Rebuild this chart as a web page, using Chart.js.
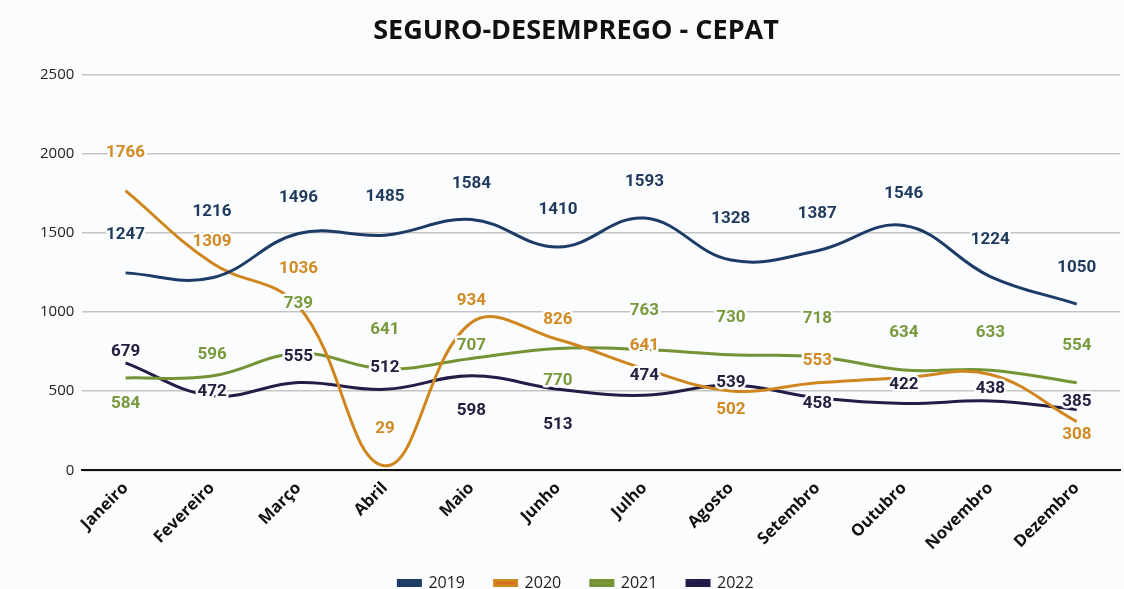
<!DOCTYPE html>
<html>
<head>
<meta charset="utf-8">
<script src="https://cdn.jsdelivr.net/npm/chart.js@4.4.1/dist/chart.umd.min.js"></script>
<style>
  html, body { margin: 0; padding: 0; background: #fbfcfd; }
  #wrap { width: 1124px; height: 589px; position: relative; }
</style>
</head>
<body>
<div id="wrap"><canvas id="c" width="1124" height="589"></canvas></div>
<script>
const categories = ["Janeiro", "Fevereiro", "Março", "Abril", "Maio", "Junho", "Julho", "Agosto", "Setembro", "Outubro", "Novembro", "Dezembro"];
const seriesNames = ["2019", "2020", "2021", "2022"];
const values2019 = [1247, 1216, 1496, 1485, 1584, 1410, 1593, 1328, 1387, 1546, 1224, 1050];
const values2020 = [1766, 1309, 1036, 29, 934, 826, 641, 502, 553, 585, 605, 308];
const values2021 = [584, 596, 739, 641, 707, 770, 763, 730, 718, 634, 633, 554];
const values2022 = [679, 472, 555, 512, 598, 513, 474, 539, 458, 422, 438, 385];
const yTicks = [0, 500, 1000, 1500, 2000, 2500];

// label placement (pixels relative to the point; null = no label)
const labelOffsets2019 = [-38, -66, -36, -38, -36, -37, -36, -41, -37, -32, -37, -36];
const labelOffsets2020 = [-38, -21, -38, -37, -22, -20, -23, 19, -22, null, null, 13];
const labelOffsets2021 = [26, -21, -50, -39, -13, 32, -39, -37, -38, -37, -37, -37];
const labelOffsets2022 = [-11, -4, -26, -22, 35, 36, -20, -2, 6, -19, -12, -8];

const lineColors = ["#1c3b66", "#d0861f", "#739335", "#221c47"];
const legendColors = ["#1f3f6b", "#d46c1c", "#7c9a3e", "#1c1a4a"];
const labelColors = ["#1f3a5c", "#d28a22", "#789a3c", "#25203f"];

const valueSets = [values2019, values2020, values2021, values2022];
const offsetSets = [labelOffsets2019, labelOffsets2020, labelOffsets2021, labelOffsets2022];

const datasets = seriesNames.map((name, i) => ({
  label: name,
  data: valueSets[i],
  borderColor: lineColors[i],
  backgroundColor: legendColors[i],
  borderWidth: 3,
  pointRadius: 0,
  pointHoverRadius: 0,
  tension: 0.4,
  fill: false,
  labelOffsets: offsetSets[i],
  labelColor: labelColors[i]
}));

const valueLabels = {
  id: 'valueLabels',
  afterDatasetsDraw(chart) {
    const ctx = chart.ctx;
    ctx.save();
    ctx.font = "bold 17px Roboto";
    ctx.textAlign = "center";
    ctx.textBaseline = "middle";
    ctx.lineJoin = "round";
    chart.data.datasets.forEach((ds, di) => {
      const meta = chart.getDatasetMeta(di);
      meta.data.forEach((pt, i) => {
        const off = ds.labelOffsets[i];
        if (off === null || off === undefined) return;
        const txt = String(ds.data[i]);
        ctx.lineWidth = 5;
        ctx.strokeStyle = "#fbfcfd";
        ctx.strokeText(txt, pt.x, pt.y + off);
        ctx.fillStyle = ds.labelColor;
        ctx.fillText(txt, pt.x, pt.y + off);
      });
    });
    ctx.restore();
  }
};

new Chart(document.getElementById('c'), {
  type: 'line',
  data: { labels: categories, datasets: datasets },
  options: {
    responsive: false,
    animation: false,
    layout: { padding: { left: 32, right: 4, top: 0, bottom: -12 } },
    plugins: {
      title: {
        display: true,
        text: "SEGURO-DESEMPREGO - CEPAT",
        color: "#111",
        font: { family: "Open Sans", size: 27, weight: "bold" },
        padding: { top: 15, bottom: 27 }
      },
      legend: {
        display: true,
        position: 'bottom',
        labels: {
          color: "#222",
          font: { family: "Open Sans", size: 16 },
          boxWidth: 22,
          boxHeight: 5,
          padding: 13,
          generateLabels: (chart) => {
            const items = Chart.defaults.plugins.legend.labels.generateLabels(chart);
            return items.map((item, i) =>
              Object.assign(item, { text: i < items.length - 1 ? item.text + "    " : item.text }));
          }
        }
      },
      tooltip: { enabled: false }
    },
    scales: {
      x: {
        offset: true,
        grid: { display: false, drawTicks: false },
        border: { display: true, color: "#111", width: 2 },
        ticks: {
          color: "#111",
          font: { family: "Open Sans", size: 16.5, weight: "bold" },
          minRotation: 45,
          maxRotation: 45,
          padding: 8,
          autoSkip: false
        }
      },
      y: {
        min: 0,
        max: 2500,
        afterBuildTicks(axis) { axis.ticks = yTicks.map(v => ({ value: v })); },
        grid: { color: "#c4c4c4", lineWidth: 1.5, drawTicks: false },
        border: { display: false },
        ticks: {
          color: "#222",
          font: { family: "Open Sans", size: 15 },
          padding: 8,
          callback: (v) => String(v)
        }
      }
    }
  },
  plugins: [valueLabels]
});
</script>
</body>
</html>
